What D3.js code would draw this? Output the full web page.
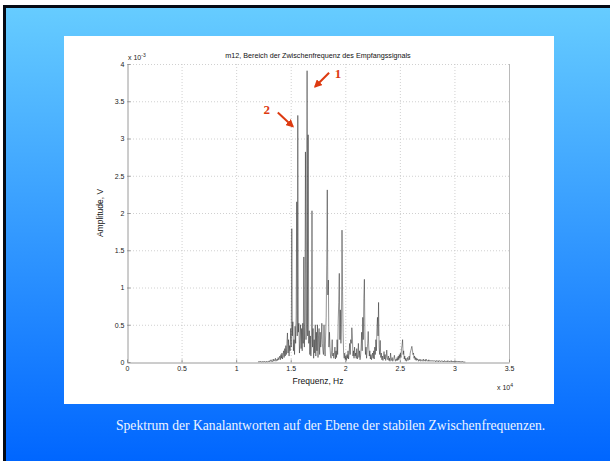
<!DOCTYPE html>
<html>
<head>
<meta charset="utf-8">
<script src="https://cdn.jsdelivr.net/npm/d3@7"></script>
<style>
  body { margin: 0; overflow: hidden; background: #fff; }
  svg { display: block; }
</style>
</head>
<body>
<svg id="chart" width="610" height="461"></svg>
<script>
// Spectrum samples: evenly spaced frequency bins, amplitude in units of 1e-3 V
const spectrumStartHz = 12000;
const spectrumStepHz = 50;
const amplitudeMilliV = [
  // 12.00 – 12.95 kHz
  0, 0, 0.01, 0, 0, 0.01, 0, 0, 0, 0.01, 0, 0, 0.01, 0, 0, 0, 0.01, 0, 0, 0.01,
  // 13.00 – 13.95 kHz
  0.01, 0, 0.02, 0.01, 0.03, 0.01, 0, 0.02, 0.04, 0.01, 0.03, 0.02, 0.05, 0.01, 0.02, 0.04, 0.02, 0.06, 0.03, 0.05,
  // 14.00 – 14.95 kHz
  0.08, 0.03, 0.10, 0.05, 0.12, 0.04, 0.09, 0.15, 0.06, 0.18, 0.08, 0.22, 0.10, 0.25, 0.39, 0.12, 0.30, 0.08, 0.22, 0.15,
  // 15.00 – 15.95 kHz
  0.45, 0.20, 1.79, 0.35, 0.54, 0.15, 0.30, 0.10, 0.48, 0.25, 0.62, 2.15, 0.35, 3.31, 0.40, 0.52, 0.12, 0.30, 0.50, 0.18,
  // 16.00 – 16.95 kHz
  0.45, 0.15, 0.52, 0.25, 1.41, 0.20, 0.55, 2.82, 0.30, 0.50, 3.91, 0.35, 3.05, 0.25, 0.42, 0.10, 0.35, 0.08, 0.30, 2.03,
  // 17.00 – 17.95 kHz
  0.20, 0.45, 0.05, 0.30, 0.12, 0.50, 0.08, 0.40, 0.15, 0.50, 0.06, 0.35, 0.45, 0.10, 0.40, 0.20, 0.30, 0.52, 0.25, 0.15,
  // 18.00 – 18.95 kHz
  0.10, 0.50, 0.20, 0.08, 0.35, 0.60, 1.30, 2.31, 0.90, 1.10, 0.20, 0.40, 0.20, 0.08, 0.05, 0.15, 0.30, 0.08, 0.12, 0.05,
  // 19.00 – 19.95 kHz
  0.10, 0.20, 0.04, 0.15, 0.06, 0.30, 0.10, 0.55, 0.80, 1.19, 0.30, 0.70, 0.25, 0.50, 1.77, 0.95, 0.40, 0.10, 0.05, 0.12,
  // 20.00 – 20.95 kHz
  0.03, 0.08, 0.02, 0.10, 0.05, 0.15, 0.04, 0.12, 0.25, 0.10, 0.30, 0.25, 0.46, 0.35, 0.08, 0.15, 0.05, 0.20, 0.08, 0.12,
  // 21.00 – 21.95 kHz
  0.05, 0.18, 0.04, 0.10, 0.25, 0.06, 0.15, 0.03, 0.08, 0.20, 0.40, 0.15, 0.60, 0.30, 0.85, 1.11, 0.35, 0.10, 0.20, 0.05,
  // 22.00 – 22.95 kHz
  0.15, 0.25, 0.41, 0.20, 0.08, 0.15, 0.04, 0.10, 0.03, 0.08, 0.12, 0.05, 0.15, 0.04, 0.20, 0.10, 0.30, 0.15, 0.45, 0.60,
  // 23.00 – 23.95 kHz
  0.35, 0.80, 0.20, 0.10, 0.29, 0.06, 0.12, 0.03, 0.08, 0.02, 0.06, 0.14, 0.04, 0.10, 0.02, 0.06, 0.16, 0.05, 0.03, 0.08,
  // 24.00 – 24.95 kHz
  0.02, 0.05, 0.01, 0.12, 0.04, 0.02, 0.06, 0.01, 0.03, 0.05, 0.09, 0.03, 0.01, 0.04, 0.02, 0.06, 0.02, 0.08, 0.03, 0.10,
  // 25.00 – 25.95 kHz
  0.05, 0.12, 0.06, 0.18, 0.22, 0.30, 0.10, 0.15, 0.04, 0.08, 0.02, 0.05, 0.01, 0.03, 0.06, 0.02, 0.04, 0.08, 0.03, 0.12,
  // 26.00 – 26.95 kHz
  0.15, 0.18, 0.21, 0.16, 0.10, 0.12, 0.05, 0.08, 0.03, 0.06, 0.02, 0.05, 0.03, 0.04, 0.01, 0.03, 0.02, 0.04, 0.01, 0.02,
  // 27.00 – 27.95 kHz
  0.03, 0.01, 0.02, 0.04, 0.01, 0.02, 0.03, 0.01, 0.04, 0.02, 0.01, 0.02, 0.01, 0.03, 0.01, 0.02, 0.01, 0.02, 0.01, 0.02,
  // 28.00 – 28.95 kHz
  0.01, 0.02, 0.01, 0.01, 0.02, 0.01, 0, 0.02, 0.01, 0.01, 0.02, 0, 0.01, 0.02, 0.01, 0, 0.01, 0.02, 0.01, 0,
  // 29.00 – 29.95 kHz
  0.01, 0, 0.02, 0.01, 0, 0.01, 0.01, 0, 0.02, 0.01, 0, 0.01, 0, 0.01, 0.02, 0, 0.01, 0, 0.01, 0,
  // 30.00 – 31.00 kHz
  0.01, 0, 0.01, 0, 0.01, 0.01, 0, 0.01, 0, 0.01, 0, 0, 0.01, 0, 0, 0.01, 0, 0, 0, 0, 0
];

const xTickValues = [0, 5000, 10000, 15000, 20000, 25000, 30000, 35000];
const xTickLabels = ["0", "0.5", "1", "1.5", "2", "2.5", "3", "3.5"];
const yTickValues = [0, 0.5, 1, 1.5, 2, 2.5, 3, 3.5, 4];
const yTickLabels = ["0", "0.5", "1", "1.5", "2", "2.5", "3", "3.5", "4"];

// The two numbered spectral lines
const markedPeakHz = [16500, 15650];
const markedPeakLabels = ["1", "2"];

const titleText = "m12, Bereich der Zwischenfrequenz des Empfangssignals";
const xAxisTitle = "Frequenz, Hz";
const yAxisTitle = "Amplitude, V";
const captionText = "Spektrum der Kanalantworten auf der Ebene der stabilen Zwischenfrequenzen.";

const spectrum = amplitudeMilliV.map((a, i) => ({ f: spectrumStartHz + i * spectrumStepHz, a }));

const svg = d3.select("#chart");
const sans = "Arial, 'Liberation Sans', Helvetica, sans-serif";
const serif = "'Times New Roman', 'Liberation Serif', Times, serif";

// ---- slide background ----
const defs = svg.append("defs");
const grad = defs.append("linearGradient")
  .attr("id", "slideGrad").attr("x1", 0).attr("y1", 0).attr("x2", 0).attr("y2", 1);
grad.append("stop").attr("offset", "0%").attr("stop-color", "#66ccff");
grad.append("stop").attr("offset", "100%").attr("stop-color", "#0066ff");

svg.append("rect").attr("width", 610).attr("height", 461).attr("fill", "#fff");
svg.append("rect").attr("x", 3).attr("y", 5).attr("width", 607).attr("height", 456).attr("fill", "#050a14");
svg.append("rect").attr("x", 6).attr("y", 8).attr("width", 604).attr("height", 453).attr("fill", "url(#slideGrad)");

// white figure panel
svg.append("rect").attr("x", 64).attr("y", 36).attr("width", 490).attr("height", 368).attr("fill", "#fff");

// ---- plot ----
const x = d3.scaleLinear().domain([0, 35000]).range([127, 509]);
const y = d3.scaleLinear().domain([0, 4]).range([362, 64]);

const g = svg.append("g");

// dotted grid
g.append("g").selectAll("line").data(xTickValues.slice(1, -1)).join("line")
  .attr("x1", d => x(d) + 0.5).attr("x2", d => x(d) + 0.5)
  .attr("y1", y(4)).attr("y2", y(0))
  .attr("stroke", "#c4c4c4").attr("stroke-width", 0.8).attr("stroke-dasharray", "1,2");
g.append("g").selectAll("line").data(yTickValues.slice(1, -1)).join("line")
  .attr("x1", x(0)).attr("x2", x(35000))
  .attr("y1", d => y(d) + 0.5).attr("y2", d => y(d) + 0.5)
  .attr("stroke", "#c4c4c4").attr("stroke-width", 0.8).attr("stroke-dasharray", "1,2");

// top and right box edges
g.append("line").attr("x1", x(0)).attr("x2", x(35000)).attr("y1", y(4) + 0.5).attr("y2", y(4) + 0.5)
  .attr("stroke", "#c4c4c4").attr("stroke-width", 0.8).attr("stroke-dasharray", "1,2");
g.append("line").attr("x1", x(35000) + 0.5).attr("x2", x(35000) + 0.5).attr("y1", y(4)).attr("y2", y(0))
  .attr("stroke", "#a8a8a8").attr("stroke-width", 0.8);

// spectrum trace
const line = d3.line().x(d => x(d.f)).y(d => y(d.a));
g.append("path").datum(spectrum)
  .attr("d", line)
  .attr("fill", "none").attr("stroke", "#111").attr("stroke-width", 0.45)
  .attr("stroke-linejoin", "miter");

// axes
const xAxis = d3.axisBottom(x).tickValues(xTickValues)
  .tickFormat((d, i) => xTickLabels[i]).tickSizeInner(-3).tickSizeOuter(0).tickPadding(4);
const yAxis = d3.axisLeft(y).tickValues(yTickValues)
  .tickFormat((d, i) => yTickLabels[i]).tickSizeInner(-3).tickSizeOuter(0).tickPadding(3);

const gx = g.append("g").attr("transform", `translate(0,${y(0) + 0.5})`).call(xAxis);
const gy = g.append("g").attr("transform", `translate(${x(0) + 0.5},0)`).call(yAxis);
[gx, gy].forEach(ax => {
  ax.select(".domain").attr("stroke", "#808080").attr("stroke-width", 0.8);
  ax.selectAll(".tick line").attr("stroke", "#808080").attr("stroke-width", 0.8);
  ax.selectAll(".tick text").attr("fill", "#222").attr("font-family", sans).attr("font-size", 7);
});

// axis exponents
const yExp = svg.append("text").attr("x", 128).attr("y", 60)
  .attr("font-family", sans).attr("font-size", 7).attr("fill", "#222");
yExp.append("tspan").text("x 10");
yExp.append("tspan").attr("dy", -3).attr("font-size", 5).text("-3");

const xExp = svg.append("text").attr("x", 497).attr("y", 390)
  .attr("font-family", sans).attr("font-size", 7).attr("fill", "#222");
xExp.append("tspan").text("x 10");
xExp.append("tspan").attr("dy", -3).attr("font-size", 5).text("4");

// titles
svg.append("text").attr("x", (x(0) + x(35000)) / 2).attr("y", 58)
  .attr("text-anchor", "middle").attr("font-family", sans).attr("font-size", 7.2)
  .attr("fill", "#111").text(titleText);
svg.append("text").attr("x", (x(0) + x(35000)) / 2).attr("y", 384)
  .attr("text-anchor", "middle").attr("font-family", sans).attr("font-size", 8.5)
  .attr("fill", "#111").text(xAxisTitle);
svg.append("text").attr("transform", `translate(103,${(y(0) + y(4)) / 2}) rotate(-90)`)
  .attr("text-anchor", "middle").attr("font-family", sans).attr("font-size", 8.5)
  .attr("fill", "#111").text(yAxisTitle);

// numbered arrows pointing at the marked peaks
const red = "#dd3a10";
defs.append("marker").attr("id", "head").attr("viewBox", "0 0 10 10")
  .attr("refX", 8).attr("refY", 5).attr("markerWidth", 4).attr("markerHeight", 4)
  .attr("orient", "auto")
  .append("path").attr("d", "M0,0 L10,5 L0,10 z").attr("fill", red);

const markerLayout = [
  { tail: [22, 2], head: [8, 16], label: [31, 7] },
  { tail: [-20, -3], head: [-5, 11], label: [-31, -1] }
];
markedPeakHz.forEach((f, i) => {
  const px = x(f);
  const idx = Math.round((f - spectrumStartHz) / spectrumStepHz);
  const py = y(amplitudeMilliV[idx]);
  const L = markerLayout[i];
  svg.append("line")
    .attr("x1", px + L.tail[0]).attr("y1", py + L.tail[1])
    .attr("x2", px + L.head[0]).attr("y2", py + L.head[1])
    .attr("stroke", red).attr("stroke-width", 2).attr("marker-end", "url(#head)");
  svg.append("text").attr("x", px + L.label[0]).attr("y", py + L.label[1])
    .attr("text-anchor", "middle").attr("font-family", serif).attr("font-weight", "bold")
    .attr("font-size", 13).attr("fill", red).text(markedPeakLabels[i]);
});

// caption
svg.append("text").attr("x", 116).attr("y", 430)
  .attr("font-family", serif).attr("font-size", 13.6).attr("fill", "#eef4ff")
  .text(captionText);
</script>
</body>
</html>
